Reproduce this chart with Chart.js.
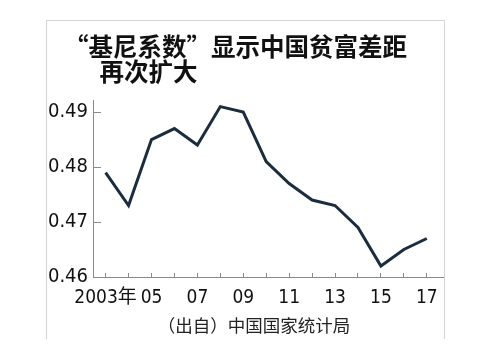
<!DOCTYPE html>
<html>
<head>
<meta charset="utf-8">
<script src="https://cdn.jsdelivr.net/npm/chart.js@4"></script>
<style>
  html, body { margin: 0; padding: 0; background: #fff; }
  #wrap { position: relative; width: 485px; height: 348px; }
  #frame {
    position: absolute; left: 46px; top: 20px; width: 397px; height: 318px;
    border: 1px solid #d4d4d4; border-bottom: none; pointer-events: none;
  }
</style>
</head>
<body>
<div id="wrap">
  <canvas id="chart" width="485" height="348"></canvas>
  <div id="frame"></div>
</div>
<script>
// Gini coefficient, China (National Bureau of Statistics)
const years = [2003, 2004, 2005, 2006, 2007, 2008, 2009, 2010, 2011, 2012, 2013, 2014, 2015, 2016, 2017];
const gini = [0.479, 0.473, 0.485, 0.487, 0.484, 0.491, 0.490, 0.481, 0.477, 0.474, 0.473, 0.469, 0.462, 0.465, 0.467];

const xTickYears = [2003, 2005, 2007, 2009, 2011, 2013, 2015, 2017];
const xTickLabels = ['2003年', '05', '07', '09', '11', '13', '15', '17'];
const yTicks = [0.46, 0.47, 0.48, 0.49];

const titleLines = ['“基尼系数”显示中国贫富差距', '　  再次扩大'];
const sourceText = '（出自）中国国家统计局';

const narrow = "'DejaVu Sans Condensed', 'DejaVu Sans', 'Noto Sans CJK SC', sans-serif";
const cjk = "'Noto Sans CJK SC', sans-serif";

// let the y tick labels reach left of the layout padding (title keeps its indent)
const unclipY = {
  id: 'unclipY',
  afterLayout(chart) {
    chart.scales.y.left = 0;
  }
};

new Chart(document.getElementById('chart'), {
  type: 'line',
  data: {
    datasets: [{
      data: years.map((y, i) => ({ x: y, y: gini[i] })),
      borderColor: '#1b2d3d',
      borderWidth: 3,
      pointRadius: 0,
      tension: 0,
      fill: false
    }]
  },
  options: {
    responsive: false,
    animation: false,
    layout: {
      padding: { left: 64, right: 41, top: 0, bottom: 12.5 }
    },
    scales: {
      x: {
        type: 'linear',
        min: 2002.45,
        max: 2017.75,
        afterBuildTicks: (scale) => {
          scale.ticks = years.map(v => ({ value: v }));
        },
        afterFit: (scale) => {
          scale.height = 33.2;
        },
        grid: {
          drawOnChartArea: false,
          tickLength: -4,
          color: '#8a8a8a'
        },
        border: { color: '#8a8a8a', width: 1 },
        ticks: {
          autoSkip: false,
          maxRotation: 0,
          padding: 13.8,
          color: '#111',
          font: { family: narrow, size: 19, style: 'condensed' },
          callback: (value) => {
            const i = xTickYears.indexOf(value);
            return i >= 0 ? xTickLabels[i] : '';
          }
        }
      },
      y: {
        min: 0.46,
        max: 0.4922,
        afterBuildTicks: (scale) => {
          scale.ticks = yTicks.map(v => ({ value: v }));
        },
        afterFit: (scale) => {
          scale.width = 29;
        },
        grid: {
          drawOnChartArea: false,
          tickLength: -8,
          color: '#8a8a8a'
        },
        border: { color: '#8a8a8a', width: 1 },
        ticks: {
          padding: 13,
          color: '#111',
          font: { family: narrow, size: 20, style: 'condensed' },
          callback: (value) => value.toFixed(2)
        }
      }
    },
    plugins: {
      legend: { display: false },
      tooltip: { enabled: false },
      title: {
        display: true,
        text: titleLines,
        align: 'start',
        color: '#111',
        font: { family: cjk, size: 24.5, weight: 'bold', lineHeight: 1.0 },
        padding: { top: 34.75, bottom: 16.25 }
      },
      subtitle: {
        display: true,
        position: 'bottom',
        text: sourceText,
        align: 'center',
        color: '#222',
        font: { family: cjk, size: 17.5, weight: 'normal', lineHeight: 1.2 },
        padding: { top: 4.3, bottom: 0 }
      }
    }
  },
  plugins: [unclipY]
});
</script>
</body>
</html>
